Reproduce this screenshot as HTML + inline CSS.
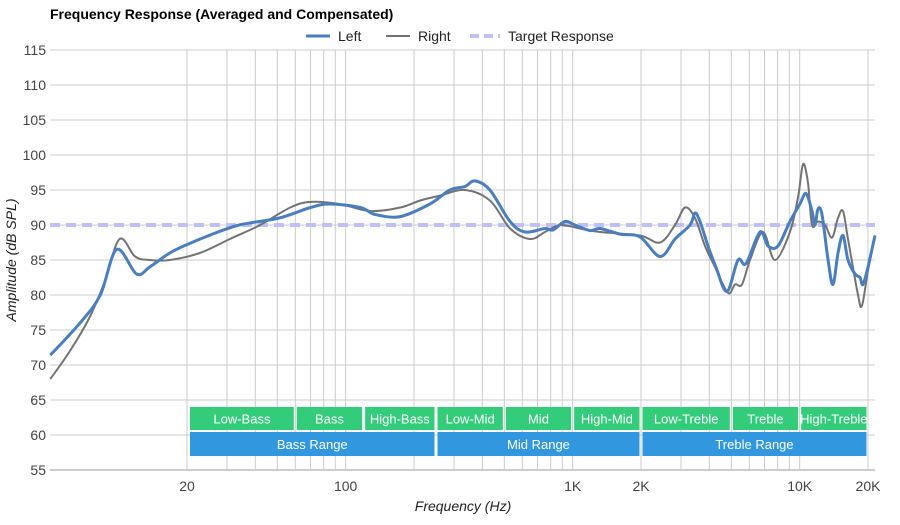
<!DOCTYPE html>
<html><head><meta charset="utf-8"><style>
body{margin:0;background:#fff;font-family:"Liberation Sans",sans-serif}
svg text{font-family:"Liberation Sans",sans-serif}
</style></head><body>
<svg id="c" width="900" height="520">
<text x="50" y="19" font-size="14" font-weight="bold" fill="#000">Frequency Response (Averaged and Compensated)</text>
<g>
<g><line x1="306" y1="36" x2="330" y2="36" stroke="#4a7ebf" stroke-width="3"/><text x="338" y="41" font-size="14" fill="#222">Left</text></g>
<g><line x1="386" y1="36" x2="410" y2="36" stroke="#737373" stroke-width="2"/><text x="418" y="41" font-size="14" fill="#222">Right</text></g>
<g><line x1="470" y1="36" x2="500" y2="36" stroke="#c0c0f8" stroke-width="4" stroke-dasharray="9,5"/><text x="508" y="41" font-size="14" fill="#222">Target Response</text></g>
</g>
<g id="grid"></g>
<g id="bands"></g>
<g id="series"></g>
<g id="axes"></g>
<text transform="translate(16,260) rotate(-90)" text-anchor="middle" font-size="14" font-style="italic" fill="#222">Amplitude (dB SPL)</text>
<text x="463" y="511" text-anchor="middle" font-size="14" font-style="italic" fill="#222">Frequency (Hz)</text>
</svg>
<script>
const yTicks=[55,60,65,70,75,80,85,90,95,100,105,110,115];
const xGridFreqs=[20,30,40,50,60,70,80,90,100,200,300,400,500,600,700,800,900,1000,2000,3000,4000,5000,6000,7000,8000,9000,10000,20000];
const xTickFreqs=[20,100,1000,2000,10000,20000];
const xTickLabels=["20","100","1K","2K","10K","20K"];
const targetDb=90;
const leftFreq=[5,6.8,8.3,9.8,12,13.7,16.8,20,25,34,51,70,85,116,135,174,235,288,335,371,432,530,617,755,819,925,1024,1192,1319,1615,1980,2426,2825,3288,3459,3639,3945,4277,4786,5350,5806,6686,7252,8024,9060,10025,10664,11330,11680,12040,12540,13340,14020,14760,15520,16320,17530,18440,19000,20000,21480];
const leftDb=[71.4,76.1,80,86.5,83,84,86,87.2,88.5,90,91,92.5,93,92.5,91.5,91.2,93,95,95.5,96.3,95,90.5,89,89.5,89.3,90.5,90,89.2,89.5,88.7,88.3,85.5,88,90,91.7,90.5,87,84,80.5,85,84.5,89,87,87,90.5,93,94.5,92,90,92.3,91.5,85,81.5,86,88.5,85,83,82.5,81.5,84,88.5];
const rightFreq=[5,6.1,7.5,8.7,10.1,11.8,13.7,16.8,22.8,30.9,42,57,70,94,128,174,213,260,335,432,530,649,755,880,1077,1319,1980,2426,2825,3126,3459,3828,4236,4832,5188,5572,6040,6892,7780,9060,9840,10350,10880,11330,12040,12940,13880,14760,15520,16320,18070,18820,20000,21480];
const rightDb=[68,72,77,82,88,85.5,85,85,86,88,90,92.5,93.3,93,92,92.5,93.5,94.2,95,93.5,89.5,88,89,90,89.5,89,88.5,87.5,90,92.5,91,87,84,80.3,81.5,81.5,85,89,85,89,94,98.7,96,90,90.5,90,88.2,91,92,88,80,78.5,83.5,88.5];
const bandNames=["Low-Bass","Bass","High-Bass","Low-Mid","Mid","High-Mid","Low-Treble","Treble","High-Treble"];
const bandEdges=[20,60,120,250,500,1000,2000,5000,10000,20000];
const rangeNames=["Bass Range","Mid Range","Treble Range"];
const rangeEdges=[20,250,2000,20000];

const L=50,R=875,T=50,B=470;
const X=f=>187+227*Math.log10(f/20);
const Y=d=>B-(d-55)*(B-T)/60;
const NS="http://www.w3.org/2000/svg";
function mk(tag,parent,attrs){const e=document.createElementNS(NS,tag);for(const k in attrs)e.setAttribute(k,attrs[k]);parent.appendChild(e);return e;}
const grid=document.getElementById('grid'),axes=document.getElementById('axes'),bands=document.getElementById('bands'),series=document.getElementById('series');
yTicks.forEach(v=>{
 const l=mk('line',grid,{x1:L,x2:R,y1:Y(v),y2:Y(v),stroke:v===55?'#999':'#ccc','stroke-width':1});
 
 
 const t=mk('text',axes,{x:46,y:Y(v)+5,'text-anchor':'end','font-size':14,fill:'#444'});
 t.textContent=v;
 
 
});
xGridFreqs.forEach(f=>{
 const l=mk('line',grid,{x1:X(f),x2:X(f),y1:T,y2:B,stroke:'#ccc','stroke-width':1});
 
 
});
xTickFreqs.forEach((f,i)=>{
 const t=mk('text',axes,{x:X(f),y:491,'text-anchor':'middle','font-size':14,fill:'#444'});
 t.textContent=xTickLabels[i];
 
 
});
function band(names,edges,y,h,color,nm){
 names.forEach((n,i)=>{
  const x1=X(edges[i])+(i===0?3:1.5),x2=X(edges[i+1])-1.5;
  const g=mk('g',bands,{});
  
  
  mk('rect',g,{x:x1,y:y,width:x2-x1,height:h,fill:color});
  const t=mk('text',g,{x:(x1+x2)/2,y:y+h/2+5,'text-anchor':'middle','font-size':13,fill:'#fff'});
  t.textContent=n;
 });
}
band(bandNames,bandEdges,407,23,'#33cc7a','band-segment');
band(rangeNames,rangeEdges,432,24,'#3198e0','range-segment');
const tg=mk('line',series,{x1:L,x2:R,y1:Y(targetDb),y2:Y(targetDb),stroke:'#c0c0f8','stroke-width':4,'stroke-dasharray':'10,6'});


function path(fs,ds){
 const p=fs.map((f,i)=>[Math.min(R,Math.max(L,X(f))),Y(ds[i])]);
 let d='M'+p[0][0].toFixed(1)+','+p[0][1].toFixed(1);
 for(let i=0;i<p.length-1;i++){
  const p0=p[Math.max(0,i-1)],p1=p[i],p2=p[i+1],p3=p[Math.min(p.length-1,i+2)];
  const c1=[p1[0]+(p2[0]-p0[0])/6,p1[1]+(p2[1]-p0[1])/6],c2=[p2[0]-(p3[0]-p1[0])/6,p2[1]-(p3[1]-p1[1])/6];
  d+='C'+c1.map(v=>v.toFixed(1))+' '+c2.map(v=>v.toFixed(1))+' '+p2.map(v=>v.toFixed(1));
 }
 return d;
}
const rp=mk('path',series,{d:path(rightFreq,rightDb),fill:'none',stroke:'#737373','stroke-width':2});


const lp=mk('path',series,{d:path(leftFreq,leftDb),fill:'none',stroke:'#4a7ebf','stroke-width':3});


</script>
</body></html>
